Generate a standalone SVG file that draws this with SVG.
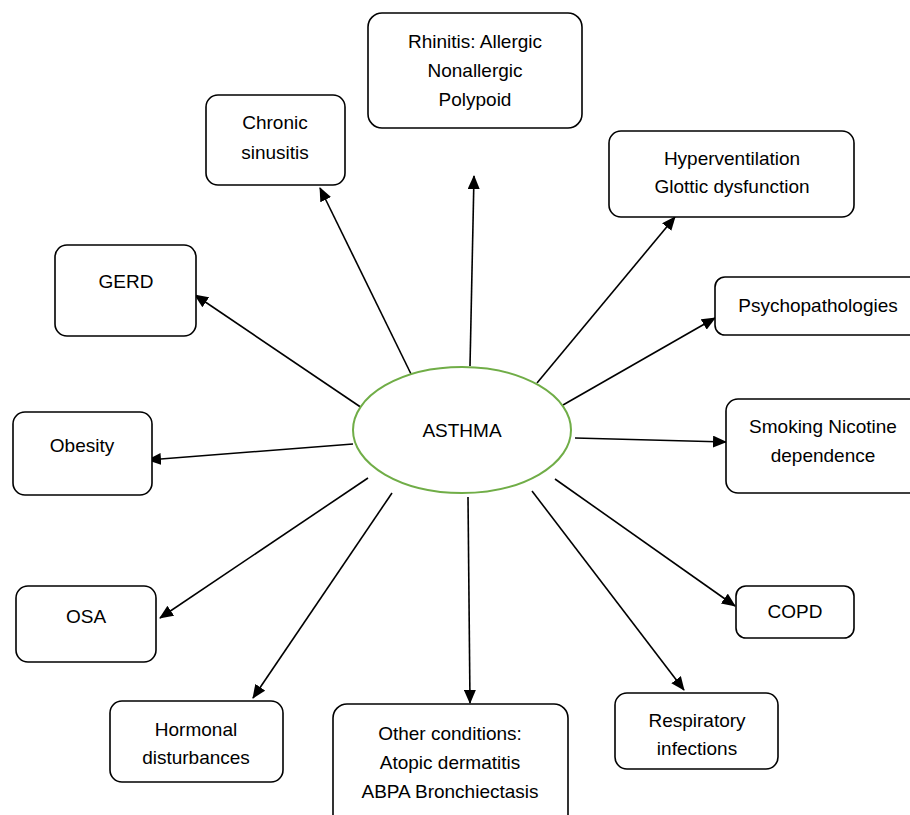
<svg xmlns="http://www.w3.org/2000/svg" width="910" height="815" viewBox="0 0 910 815">
<style>
.box{fill:#fff;stroke:#000;stroke-width:1.6}
.t{font-family:"Liberation Sans",Arial,sans-serif;font-size:19px;fill:#000;text-anchor:middle}
.c{stroke:#000;stroke-width:1.6;fill:none;marker-end:url(#ah)}
</style>
<defs>
<marker id="ah" markerUnits="userSpaceOnUse" markerWidth="14" markerHeight="12" refX="13" refY="6" orient="auto">
<path d="M0,0 L14,6 L0,12 Z" fill="#000"/>
</marker>
</defs>
<rect width="910" height="815" fill="#fff"/>
<g id="connectors">
<line class="c" x1="470" y1="366" x2="474" y2="176"/>
<line class="c" x1="412" y1="376" x2="320" y2="188"/>
<line class="c" x1="362" y1="408" x2="195" y2="295"/>
<line class="c" x1="353" y1="444" x2="148" y2="460"/>
<line class="c" x1="368" y1="478" x2="160" y2="618"/>
<line class="c" x1="392" y1="493" x2="253" y2="698"/>
<line class="c" x1="468" y1="497" x2="470" y2="703"/>
<line class="c" x1="532" y1="491" x2="684" y2="690"/>
<line class="c" x1="555" y1="479" x2="735" y2="606"/>
<line class="c" x1="575" y1="438" x2="726" y2="442"/>
<line class="c" x1="563" y1="405" x2="715" y2="318"/>
<line class="c" x1="537" y1="383" x2="675" y2="217"/>
</g>
<g id="asthma">
<ellipse cx="462" cy="430" rx="109" ry="63" fill="#fff" stroke="#70AD47" stroke-width="2"/>
<text class="t" x="462" y="437">ASTHMA</text>
</g>
<g id="rhinitis">
<rect class="box" x="368" y="13" width="214" height="115" rx="14"/>
<text class="t" x="475" y="48">Rhinitis: Allergic</text>
<text class="t" x="475" y="77">Nonallergic</text>
<text class="t" x="475" y="106">Polypoid</text>
</g>
<g id="sinusitis">
<rect class="box" x="206" y="95" width="139" height="90" rx="12"/>
<text class="t" x="275" y="129">Chronic</text>
<text class="t" x="275" y="159">sinusitis</text>
</g>
<g id="hyperventilation">
<rect class="box" x="609" y="131" width="245" height="86" rx="12"/>
<text class="t" x="732" y="165">Hyperventilation</text>
<text class="t" x="732" y="193">Glottic dysfunction</text>
</g>
<g id="psychopathologies">
<rect class="box" x="715" y="277" width="210" height="58" rx="10"/>
<text class="t" x="818" y="312">Psychopathologies</text>
</g>
<g id="gerd">
<rect class="box" x="55" y="245" width="141" height="91" rx="12"/>
<text class="t" x="126" y="288">GERD</text>
</g>
<g id="obesity">
<rect class="box" x="13" y="412" width="139" height="83" rx="12"/>
<text class="t" x="82" y="452">Obesity</text>
</g>
<g id="smoking">
<rect class="box" x="726" y="399" width="200" height="94" rx="12"/>
<text class="t" x="823" y="433">Smoking Nicotine</text>
<text class="t" x="823" y="462">dependence</text>
</g>
<g id="osa">
<rect class="box" x="16" y="586" width="140" height="76" rx="12"/>
<text class="t" x="86" y="623">OSA</text>
</g>
<g id="copd">
<rect class="box" x="736" y="586" width="118" height="52" rx="10"/>
<text class="t" x="795" y="618">COPD</text>
</g>
<g id="hormonal">
<rect class="box" x="110" y="701" width="173" height="81" rx="12"/>
<text class="t" x="196" y="736">Hormonal</text>
<text class="t" x="196" y="764">disturbances</text>
</g>
<g id="other">
<rect class="box" x="333" y="704" width="235" height="130" rx="14"/>
<text class="t" x="450" y="740">Other conditions:</text>
<text class="t" x="450" y="769">Atopic dermatitis</text>
<text class="t" x="450" y="798">ABPA Bronchiectasis</text>
</g>
<g id="respiratory">
<rect class="box" x="615" y="693" width="163" height="76" rx="12"/>
<text class="t" x="697" y="727">Respiratory</text>
<text class="t" x="697" y="755">infections</text>
</g>
</svg>
